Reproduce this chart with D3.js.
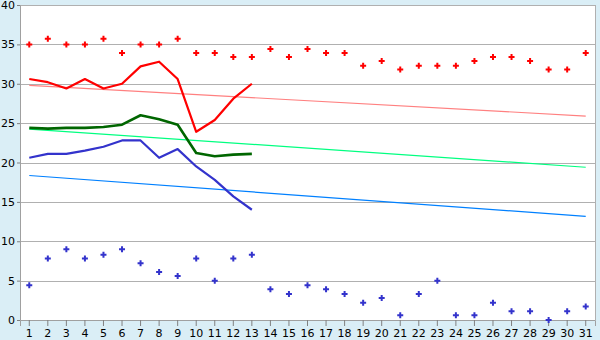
<!DOCTYPE html>
<html>
<head>
<meta charset="utf-8">
<script src="https://cdn.jsdelivr.net/npm/d3@7"></script>
<style>
  body { margin: 0; background: #daeef6; }
  svg { display: block; }
  .tick text { font-family: "DejaVu Sans", sans-serif; font-size: 11px; fill: #000; }
</style>
</head>
<body>
<div id="chart"></div>
<script>
// days of the month
var days = d3.range(1, 32);

// daily scatter values
var highPoints = [35, 35.7, 35, 35, 35.7, 33.9, 35, 35, 35.7, 33.9, 33.9, 33.4, 33.4, 34.4, 33.4, 34.4,
  33.9, 33.9, 32.3, 32.9, 31.8, 32.3, 32.3, 32.3, 32.9, 33.4, 33.4, 32.9, 31.8, 31.8, 33.9];
var lowPoints = [4.4, 7.8, 9.0, 7.8, 8.3, 9.0, 7.2, 6.1, 5.6, 7.8, 5.0, 7.8, 8.3, 3.9, 3.3, 4.4,
  3.9, 3.3, 2.2, 2.8, 0.6, 3.3, 5.0, 0.6, 0.6, 2.2, 1.1, 1.1, 0, 1.1, 1.7];

// lines for the first 13 days
var redLine = [30.6, 30.2, 29.4, 30.6, 29.4, 30.0, 32.2, 32.8, 30.6, 23.9, 25.4, 28.1, 30.0];
var greenLine = [24.4, 24.3, 24.4, 24.4, 24.5, 24.8, 26.0, 25.5, 24.8, 21.2, 20.8, 21.0, 21.1];
var blueLine = [20.6, 21.1, 21.1, 21.5, 22.0, 22.8, 22.8, 20.6, 21.7, 19.5, 17.8, 15.7, 14.0];

// trend lines, day 1 -> day 31
var redTrend = [[1, 29.8], [31, 25.9]];
var greenTrend = [[1, 24.25], [31, 19.4]];
var blueTrend = [[1, 18.35], [31, 13.15]];

var yTicks = [0, 5, 10, 15, 20, 25, 30, 35, 40];

var width = 600, height = 340;
var plotLeft = 20, plotRight = 595, plotTop = 5, plotBottom = 320;

var svg = d3.select('#chart').append('svg')
  .attr('width', width).attr('height', height);

var x = d3.scaleBand().domain(days).range([plotLeft, plotRight]);
var y = d3.scaleLinear().domain([0, 40]).range([plotBottom, plotTop]);
var cx = function(d) { return x(d) + x.bandwidth() / 2; };

// plot area
svg.append('rect')
  .attr('x', plotLeft).attr('y', plotTop)
  .attr('width', plotRight - plotLeft).attr('height', plotBottom - plotTop)
  .attr('fill', '#fff');

// grid
svg.append('g').selectAll('line')
  .data(yTicks.filter(function(d) { return d > 0; }))
  .join('line')
    .attr('x1', plotLeft).attr('x2', plotRight)
    .attr('y1', function(d) { return Math.round(y(d)) + 0.5; })
    .attr('y2', function(d) { return Math.round(y(d)) + 0.5; })
    .attr('stroke', '#b0b0b0');

svg.append('line')
  .attr('x1', plotRight + 0.5).attr('x2', plotRight + 0.5)
  .attr('y1', plotTop).attr('y2', plotBottom)
  .attr('stroke', '#b0b0b0');

// axes
svg.append('g')
  .attr('transform', 'translate(' + plotLeft + ',0)')
  .call(d3.axisLeft(y).tickValues(yTicks).tickSize(3).tickPadding(2));
svg.append('g')
  .attr('transform', 'translate(0,' + plotBottom + ')')
  .call(d3.axisBottom(x).tickSize(6).tickPadding(3));
svg.selectAll('.domain').attr('stroke', '#a0a0a0');
svg.selectAll('.tick line').attr('stroke', '#808080');

// trend lines
var trendLine = d3.line()
  .x(function(d) { return cx(d[0]); })
  .y(function(d) { return y(d[1]); });
[[redTrend, '#ff8080'], [greenTrend, '#00ff80'], [blueTrend, '#0080ff']].forEach(function(t) {
  svg.append('path')
    .attr('d', trendLine(t[0]))
    .attr('fill', 'none')
    .attr('stroke', t[1])
    .attr('stroke-width', 1.2);
});

// day lines
var dayLine = d3.line()
  .x(function(d, i) { return cx(days[i]); })
  .y(function(d) { return y(d); });
[[redLine, '#ff0000', 2.2], [greenLine, '#006600', 2.6], [blueLine, '#3333cc', 2.2]].forEach(function(l) {
  svg.append('path')
    .attr('d', dayLine(l[0]))
    .attr('fill', 'none')
    .attr('stroke', l[1])
    .attr('stroke-width', l[2])
    .attr('stroke-linejoin', 'round');
});

// scatter markers
var marker = d3.symbol().type(d3.symbolCross).size(20);
[[highPoints, '#ff0000'], [lowPoints, '#3333cc']].forEach(function(p) {
  svg.append('g').selectAll('path')
    .data(p[0])
    .join('path')
      .attr('d', marker)
      .attr('transform', function(d, i) { return 'translate(' + cx(days[i]) + ',' + y(d) + ')'; })
      .attr('fill', p[1]);
});
</script>
</body>
</html>
